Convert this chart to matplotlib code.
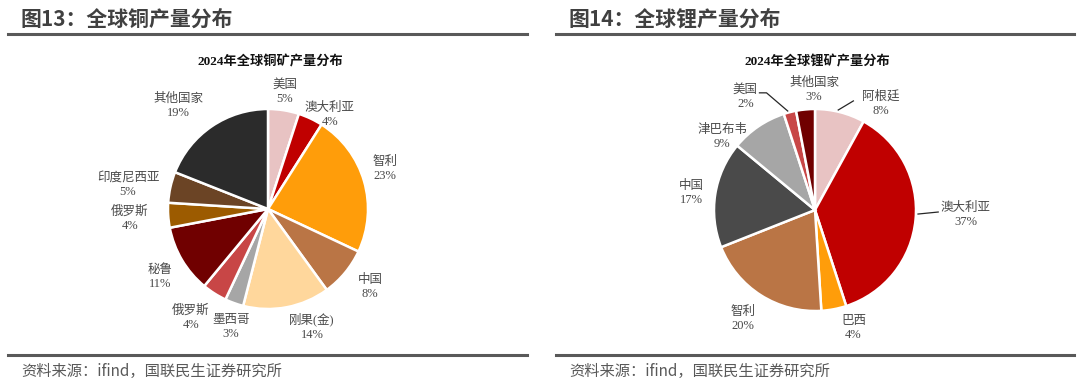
import matplotlib
matplotlib.use("Agg")
import matplotlib.pyplot as plt
from matplotlib.lines import Line2D

# ---------------- data ----------------
cu_countries = ["美国", "澳大利亚", "智利", "中国", "刚果(金)", "墨西哥", "俄罗斯", "秘鲁", "俄罗斯", "印度尼西亚", "其他国家"]
cu_share = [5, 4, 23, 8, 14, 3, 4, 11, 4, 5, 19]
li_countries = ["阿根廷", "澳大利亚", "巴西", "智利", "中国", "津巴布韦", "美国", "其他国家"]
li_share = [8, 37, 4, 20, 17, 9, 2, 3]

cu_title = "图13：全球铜产量分布"
li_title = "图14：全球锂产量分布"
cu_chart_title = "2024年全球铜矿产量分布"
li_chart_title = "2024年全球锂矿产量分布"
source_text = "资料来源：ifind，国联民生证券研究所"

# ---------------- styles ----------------
cu_colors = ["#E8C3C3", "#C00000", "#FF9D0A", "#BA7545", "#FFD79C", "#A6A6A6",
             "#C84646", "#700000", "#9C5B00", "#6B4425", "#2B2B2B"]
li_colors = ["#E8C3C3", "#C00000", "#FF9D0A", "#BA7545", "#4A4A4A", "#A6A6A6", "#C84646", "#700000"]

# label positions in units of pie radius (x, y)
cu_label_pos = [(0.17, 1.17), (0.62, 0.94), (1.17, 0.40), (1.02, -0.78), (0.44, -1.18),
                (-0.37, -1.18), (-0.77, -1.09), (-1.08, -0.68), (-1.38, -0.10), (-1.40, 0.24),
                (-0.90, 1.03)]
li_label_pos = [(0.65, 1.05), (1.49, -0.05), (0.38, -1.17), (-0.71, -1.08), (-1.22, 0.17),
                (-0.92, 0.72), (-0.69, 1.12), (-0.01, 1.19)]

W, H = 1080, 388
fig = plt.figure(figsize=(W / 100, H / 100), dpi=100)
fig.patch.set_facecolor("white")

CJK = "Noto Sans CJK SC"
LABEL_FONT = ["Liberation Serif", CJK]
label_color = "#4A4A4A"
frame_color = "#595959"


def fx(x):
    return x / W


def fy(y):
    return 1 - y / H


def hline(x0, x1, y, lw):
    fig.add_artist(Line2D([fx(x0), fx(x1)], [fy(y), fy(y)], color=frame_color, lw=lw,
                          transform=fig.transFigure))


def panel(x0, x1, title, chart_title, cx, cy, r, values, names, colors, label_pos, leaders):
    fig.text(fx(x0 + 12), fy(19.5), title, family=[CJK], fontweight="bold", fontsize=15,
             color="#404040", ha="left", va="center")
    hline(x0, x1, 33.5, 2.2)
    hline(x0, x1, 355, 2.2)
    fig.text(fx(x0 + 13), fy(371), source_text, family=[CJK], fontsize=11,
             color=frame_color, ha="left", va="center")
    fig.text(fx(cx + 2), fy(62), chart_title, family=["Liberation Serif", CJK], fontweight="bold",
             fontsize=9.5, color="#111111", ha="center", va="center")
    ax = fig.add_axes([fx(cx - r), fy(cy + r), 2 * r / W, 2 * r / H])
    ax.pie(values, colors=colors, startangle=90, counterclock=False,
           wedgeprops=dict(edgecolor="white", linewidth=1.8))
    ax.set_xlim(-1, 1)
    ax.set_ylim(-1, 1)
    ax.axis("off")
    for name, v, (lx, ly) in zip(names, values, label_pos):
        ax.text(lx, ly, f"{name}\n{v}%", family=LABEL_FONT, fontsize=9, color=label_color,
                ha="center", va="center", linespacing=1.25, clip_on=False)
    for pts in leaders:
        xs, ys = zip(*pts)
        ax.add_line(Line2D(xs, ys, color="#262626", lw=0.9, clip_on=False))


panel(8, 527, cu_title, cu_chart_title, 268, 209, 100, cu_share, cu_countries, cu_colors,
      cu_label_pos, [])

li_leaders = [
    [(0.23, 0.99), (0.38, 1.08)],
    [(1.02, -0.04), (1.22, -0.02)],
    [(-0.55, 1.16), (-0.48, 1.16), (-0.27, 0.98)],
]
panel(556, 1074, li_title, li_chart_title, 815, 210, 101, li_share, li_countries, li_colors,
      li_label_pos, li_leaders)

fig.savefig("out.png", dpi=100, facecolor="white")
